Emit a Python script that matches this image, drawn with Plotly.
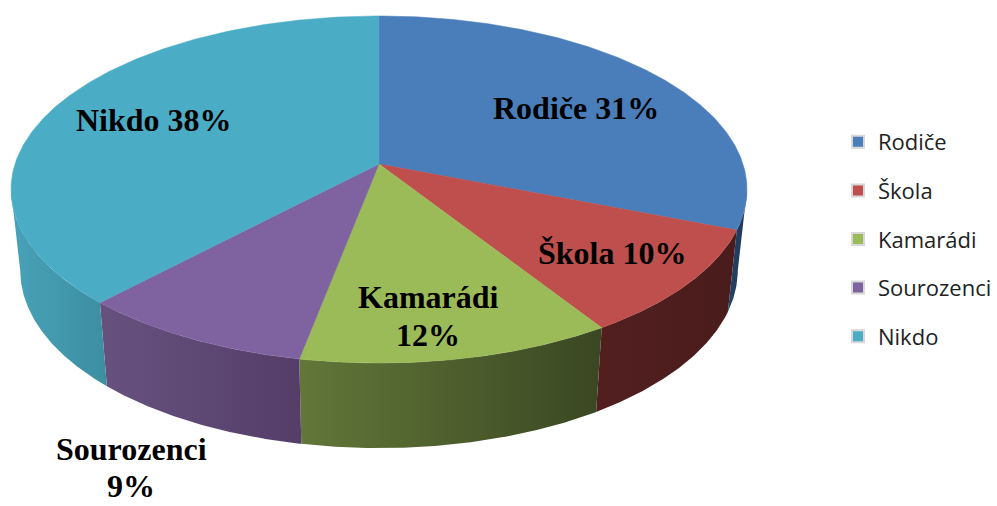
import numpy as np
import plotly.graph_objects as go

# ---- data ----
categories = ["Rodiče", "Škola", "Kamarádi", "Sourozenci", "Nikdo"]
values = [31, 10, 12, 9, 38]
label_texts = ["Rodiče 31%", "Škola 10%", "Kamarádi<br>12%", "Sourozenci<br>9%", "Nikdo 38%"]

# ---- style ----
top_colors = ["#4A7EBB", "#BE4F4C", "#9BBB59", "#7F63A1", "#4BACC6"]
side_left = ["#24446b", "#521f1f", "#627739", "#67517f", "#48a2b8"]
side_right = ["#1d3655", "#4a1c1c", "#3a4722", "#543e68", "#3d8ea1"]
# (x, y of first line, line spacing)
label_pos = [(576, 108, 0), (612, 253, 0), (428, 297, 38), (131, 449, 37), (154, 120, 0)]

W, H = 997, 506
X0, Y0 = 379.0, 164.0          # projected pie centre
A, B, K = 364.0, 169.8, 0.147  # perspective projection parameters
SHRINK = 0.975


def project(theta_deg):
    t = np.radians(theta_deg)
    X = np.sin(t)
    Y = -np.cos(t)
    w = 1 - K * Y
    return X0 + A * X / w, Y0 + B * Y / w, Y


def lower(x, y, Y):
    depth = 80.0 + 5.0 * np.clip(Y, 0, 1)
    return X0 + (x - X0) * SHRINK, y + depth


total = float(sum(values))
bounds = np.concatenate([[0], np.cumsum(values)]) / total * 360.0

fig = go.Figure()

# visible side walls (front half of the rim)
vis_lo = np.degrees(np.arccos(-K))
vis_hi = 360 - vis_lo
for i, cat in enumerate(categories):
    a0, a1 = max(bounds[i], vis_lo), min(bounds[i + 1], vis_hi)
    if a1 <= a0:
        continue
    th = np.linspace(a0, a1, 120)
    xt, yt, Yv = project(th)
    xb, yb = lower(xt, yt, Yv)
    xs = np.concatenate([xt, xb[::-1], xt[:1]])
    ys = np.concatenate([yt, yb[::-1], yt[:1]])
    fig.add_trace(go.Scatter(
        x=xs, y=ys, mode="lines", fill="toself",
        line=dict(width=0, color=side_right[i]),
        fillgradient=dict(type="horizontal",
                          colorscale=[[0, side_left[i]], [1, side_right[i]]]),
        hoverinfo="skip", showlegend=False))

# top faces
for i, cat in enumerate(categories):
    th = np.linspace(bounds[i], bounds[i + 1], 200)
    xt, yt, _ = project(th)
    xs = np.concatenate([[X0], xt, [X0]])
    ys = np.concatenate([[Y0], yt, [Y0]])
    fig.add_trace(go.Scatter(
        x=xs, y=ys, mode="lines", fill="toself", fillcolor=top_colors[i],
        line=dict(width=0.5, color=top_colors[i]),
        name=cat, hoverinfo="name", showlegend=False))

# legend entries
for i, cat in enumerate(categories):
    fig.add_trace(go.Scatter(
        x=[None], y=[None], mode="markers", name=cat, legendgroup=cat,
        marker=dict(symbol="square", size=15, color=top_colors[i],
                    line=dict(width=1, color="#d8d8d8"))))

for (lx, ly, gap), txt in zip(label_pos, label_texts):
    for j, line in enumerate(txt.split("<br>")):
        fig.add_annotation(x=lx, y=ly + j * gap, text="<b>" + line + "</b>", showarrow=False,
                           font=dict(family="Liberation Serif", size=32, color="black"),
                           xanchor="center", yanchor="middle", borderpad=0)

fig.update_layout(
    width=W, height=H,
    margin=dict(l=0, r=0, t=0, b=0),
    paper_bgcolor="white", plot_bgcolor="white",
    xaxis=dict(range=[0, W], visible=False, fixedrange=True),
    yaxis=dict(range=[H, 0], visible=False, fixedrange=True),
    showlegend=True,
    legend=dict(x=838 / W, y=1 - 121 / H, xanchor="left", yanchor="top",
                font=dict(family="Open Sans", size=22, color="#222222"),
                tracegroupgap=17, itemsizing="constant", bgcolor="rgba(0,0,0,0)"),
)

fig.write_html("out.html", config={"displayModeBar": False},
               post_script="document.body.style.margin='0px';")
